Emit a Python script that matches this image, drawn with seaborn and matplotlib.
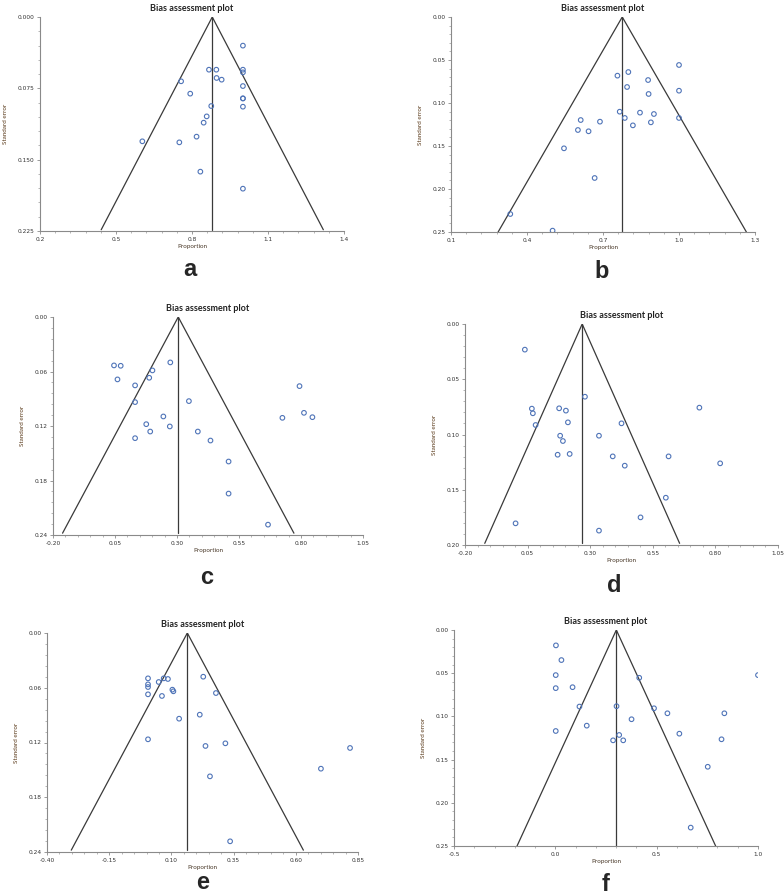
import matplotlib
matplotlib.use("Agg")
import matplotlib.pyplot as plt
import seaborn as sns
import pandas as pd
import numpy as np
from matplotlib.ticker import AutoMinorLocator, FixedLocator, FormatStrFormatter

sns.set_style("white")
plt.rcParams['font.family'] = ['Lato', 'DejaVu Sans']

# ---------------- data ----------------
a_prop = [1.001, 0.867, 0.896, 1.001, 1.001, 0.897, 0.917, 0.757, 1.001, 0.793,
          1.001, 1.001, 0.876, 1.001, 0.858, 0.846, 0.818, 0.604, 0.750, 0.833, 1.001]
a_se = [0.0301, 0.0554, 0.0554, 0.0554, 0.0582, 0.0641, 0.0659, 0.0676, 0.0726, 0.0806,
        0.0855, 0.0857, 0.0936, 0.0943, 0.1045, 0.1111, 0.1258, 0.1307, 0.1318, 0.1626, 0.1805]

b_prop = [1.000, 0.800, 0.757, 0.878, 0.795, 1.000, 0.880, 0.766, 0.846, 0.901, 0.786,
          1.000, 0.612, 0.688, 0.889, 0.818, 0.601, 0.643, 0.546, 0.667, 0.334, 0.501]
b_se = [0.0558, 0.0640, 0.0682, 0.0733, 0.0814, 0.0857, 0.0895, 0.1101, 0.1112, 0.1128, 0.1174,
        0.1174, 0.1198, 0.1217, 0.1225, 0.1260, 0.1314, 0.1329, 0.1527, 0.1872, 0.2291, 0.2484]

c_prop = [0.046, 0.073, 0.273, 0.201, 0.188, 0.060, 0.131, 0.131, 0.348, 0.794, 0.812, 0.725,
          0.846, 0.245, 0.176, 0.271, 0.192, 0.384, 0.131, 0.435, 0.508, 0.508, 0.667]
c_se = [0.0533, 0.0537, 0.0500, 0.0588, 0.0669, 0.0687, 0.0753, 0.0937, 0.0926, 0.0761, 0.1055, 0.1110,
        0.1103, 0.1095, 0.1180, 0.1205, 0.1261, 0.1261, 0.1334, 0.1360, 0.1591, 0.1944, 0.2286]

d_prop = [0.039, 0.279, 0.067, 0.176, 0.203, 0.736, 0.071, 0.211, 0.425, 0.082, 0.180, 0.335,
          0.191, 0.170, 0.218, 0.390, 0.613, 0.438, 0.819, 0.602, 0.501, 0.002, 0.335]
d_se = [0.0232, 0.0658, 0.0766, 0.0763, 0.0784, 0.0757, 0.0808, 0.0890, 0.0899, 0.0914, 0.1011, 0.1011,
        0.1059, 0.1183, 0.1176, 0.1198, 0.1198, 0.1282, 0.1261, 0.1572, 0.1750, 0.1804, 0.1870]

e_prop = [0.006, 0.006, 0.006, 0.049, 0.069, 0.086, 0.228, 0.104, 0.108, 0.279, 0.006,
          0.062, 0.214, 0.131, 0.006, 0.317, 0.237, 0.818, 0.701, 0.255, 0.336]
e_se = [0.0497, 0.0563, 0.0592, 0.0537, 0.0497, 0.0504, 0.0479, 0.0621, 0.0639, 0.0658, 0.0672,
        0.0690, 0.0895, 0.0939, 0.1165, 0.1209, 0.1238, 0.1260, 0.1487, 0.1571, 0.2283]

f_prop = [0.003, 0.030, 0.002, 1.000, 0.414, 0.002, 0.085, 0.119, 0.302, 0.487, 0.553,
          0.834, 0.376, 0.155, 0.002, 0.612, 0.315, 0.285, 0.335, 0.820, 0.752, 0.668]
f_se = [0.0178, 0.0348, 0.0522, 0.0522, 0.0553, 0.0673, 0.0662, 0.0886, 0.0882, 0.0906, 0.0964,
        0.0964, 0.1033, 0.1107, 0.1169, 0.1200, 0.1215, 0.1277, 0.1277, 0.1265, 0.1583, 0.2287]

pooled = [0.880, 0.776, 0.305, 0.268, 0.164, 0.301]
se_max = [0.2237, 0.25, 0.238, 0.1985, 0.238, 0.25]

x_ticks = [[0.2, 0.5, 0.8, 1.1, 1.4],
           [0.1, 0.4, 0.7, 1.0, 1.3],
           [-0.20, 0.05, 0.30, 0.55, 0.80, 1.05],
           [-0.20, 0.05, 0.30, 0.55, 0.80, 1.05],
           [-0.40, -0.15, 0.10, 0.35, 0.60, 0.85],
           [-0.5, 0.0, 0.5, 1.0]]
y_ticks = [[0.000, 0.075, 0.150, 0.225],
           [0.00, 0.05, 0.10, 0.15, 0.20, 0.25],
           [0.00, 0.06, 0.12, 0.18, 0.24],
           [0.00, 0.05, 0.10, 0.15, 0.20],
           [0.00, 0.06, 0.12, 0.18, 0.24],
           [0.00, 0.05, 0.10, 0.15, 0.20, 0.25]]
x_fmt = ['%.1f', '%.1f', '%.2f', '%.2f', '%.2f', '%.1f']
y_fmt = ['%.3f', '%.2f', '%.2f', '%.2f', '%.2f', '%.2f']
panel_labels = ['a', 'b', 'c', 'd', 'e', 'f']

props = [a_prop, b_prop, c_prop, d_prop, e_prop, f_prop]
ses = [a_se, b_se, c_se, d_se, e_se, f_se]

# axes boxes in pixels: left, right, top, bottom ; letter position (x, y)
W, H = 784, 896
boxes = [(40, 344, 17, 231), (451, 755, 17, 232),
         (53, 363, 317, 535), (465, 778, 324, 545),
         (47, 358, 633, 852), (454, 758, 630, 846)]
letters = [(190, 270), (602, 271), (207, 578), (614, 585), (203, 882), (606, 884)]

fig = plt.figure(figsize=(W / 100, H / 100), dpi=100)
fig.patch.set_facecolor('white')

for i in range(6):
    l, r, t, b = boxes[i]
    ax = fig.add_axes([l / W, 1 - b / H, (r - l) / W, (b - t) / H])
    df = pd.DataFrame({'Proportion': props[i], 'SE': ses[i]})
    c = pooled[i]
    s = se_max[i]
    # funnel
    ax.plot([c - 1.96 * s, c, c + 1.96 * s], [s, 0, s], color='#3a3a3a', lw=0.9, zorder=2)
    ax.plot([c, c], [0, s], color='#3a3a3a', lw=0.9, zorder=2)
    sns.scatterplot(data=df, x='Proportion', y='SE', ax=ax, marker='o', s=11,
                    facecolor='none', edgecolor='#4f74b8', linewidth=0.8, zorder=3)
    xt = x_ticks[i]
    yt = y_ticks[i]
    ax.set_xlim(xt[0], xt[-1])
    ax.set_ylim(yt[-1], yt[0])
    ax.xaxis.set_major_locator(FixedLocator(xt))
    ax.yaxis.set_major_locator(FixedLocator(yt))
    ax.xaxis.set_major_formatter(FormatStrFormatter(x_fmt[i]))
    ax.yaxis.set_major_formatter(FormatStrFormatter(y_fmt[i]))
    ax.xaxis.set_minor_locator(AutoMinorLocator(5))
    ax.yaxis.set_minor_locator(AutoMinorLocator(5))
    for sp in ['top', 'right']:
        ax.spines[sp].set_visible(False)
    for sp in ['left', 'bottom']:
        ax.spines[sp].set_color('#8a8a8a')
        ax.spines[sp].set_linewidth(0.8)
    ax.tick_params(axis='both', which='major', labelsize=4.2, length=2.5, width=0.6,
                   color='#8a8a8a', labelcolor='#333333', pad=1.5, bottom=True, left=True)
    ax.tick_params(axis='both', which='minor', length=1.6, width=0.5, color='#9a9a9a',
                   bottom=True, left=True)
    for lab in ax.get_xticklabels() + ax.get_yticklabels():
        lab.set_family(['DejaVu Sans'])
    ax.set_xlabel('Proportion', fontsize=4.5, color='#4a3a2a', labelpad=2)
    ax.set_ylabel('Standard error', fontsize=4.5, color='#5a3a1a', labelpad=7)
    ax.set_title('Bias assessment plot', fontsize=6.5, fontweight='bold', color='#222222', pad=4)
    ax.set_facecolor('white')
    lx, ly = letters[i]
    fig.text(lx / W, 1 - ly / H, panel_labels[i], fontsize=17, fontweight='bold',
             ha='center', va='center', family=['Liberation Sans', 'DejaVu Sans'])

fig.savefig('out.png', dpi=100, facecolor='white')
